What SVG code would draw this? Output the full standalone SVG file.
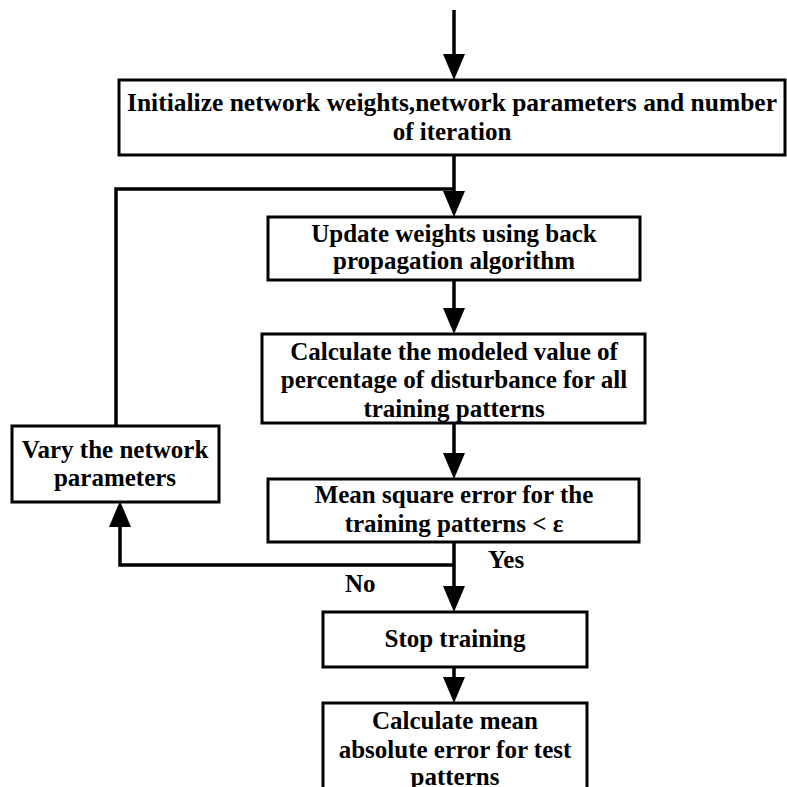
<svg xmlns="http://www.w3.org/2000/svg" width="787" height="787" viewBox="0 0 787 787">
  <style>
    .box { fill: #ffffff; stroke: #000000; stroke-width: 3; }
    .wire { fill: none; stroke: #000000; stroke-width: 3.5; }
    .lbl { font-family: "Liberation Serif", "Times New Roman", serif; font-weight: bold; font-size: 25px; fill: #000000; text-anchor: middle; }
    .tag { font-family: "Liberation Serif", "Times New Roman", serif; font-weight: bold; font-size: 25px; fill: #000000; }
  </style>
  <defs>
    <marker id="head" viewBox="0 0 26 22" markerWidth="26" markerHeight="22" refX="14" refY="11" orient="auto" markerUnits="userSpaceOnUse">
      <path d="M0,0 L26,11 L0,22 Z" fill="#000000"/>
    </marker>
  </defs>
  <rect width="787" height="787" fill="#ffffff"/>

  <!-- connectors -->
  <g id="connectors">
    <path class="wire" d="M454,10 V68" marker-end="url(#head)"/>
    <path class="wire" d="M454,155 V205" marker-end="url(#head)"/>
    <path class="wire" d="M116,426 V189 H454"/>
    <path class="wire" d="M454,280 V322" marker-end="url(#head)"/>
    <path class="wire" d="M454,423 V467" marker-end="url(#head)"/>
    <path class="wire" d="M454,542 V600" marker-end="url(#head)"/>
    <path class="wire" d="M454,565 H120 V513" marker-end="url(#head)"/>
    <path class="wire" d="M454,667 V691" marker-end="url(#head)"/>
    <text class="tag" x="488" y="568">Yes</text>
    <text class="tag" x="345" y="592">No</text>
  </g>

  <g id="init">
    <rect class="box" x="119" y="80" width="666" height="75"/>
    <text class="lbl" x="452" y="111" textLength="650" lengthAdjust="spacingAndGlyphs">Initialize network weights,network parameters and number</text>
    <text class="lbl" x="452" y="140">of iteration</text>
  </g>

  <g id="update">
    <rect class="box" x="268" y="217" width="372" height="63"/>
    <text class="lbl" x="454" y="242">Update weights using back</text>
    <text class="lbl" x="454" y="269">propagation algorithm</text>
  </g>

  <g id="model">
    <rect class="box" x="262" y="334" width="383" height="89"/>
    <text class="lbl" x="454" y="360">Calculate the modeled value of</text>
    <text class="lbl" x="454" y="388">percentage of disturbance for all</text>
    <text class="lbl" x="454" y="417">training patterns</text>
  </g>

  <g id="mse">
    <rect class="box" x="268" y="479" width="371" height="63"/>
    <text class="lbl" x="454" y="503">Mean square error for the</text>
    <text class="lbl" x="454" y="532">training patterns &lt; ε</text>
  </g>

  <g id="vary">
    <rect class="box" x="12" y="426" width="207" height="76"/>
    <text class="lbl" x="115" y="458">Vary the network</text>
    <text class="lbl" x="115" y="486">parameters</text>
  </g>

  <g id="stop">
    <rect class="box" x="323" y="612" width="264" height="55"/>
    <text class="lbl" x="455" y="647">Stop training</text>
  </g>

  <g id="mae">
    <rect class="box" x="323" y="703" width="264" height="100"/>
    <text class="lbl" x="455" y="729">Calculate mean</text>
    <text class="lbl" x="455" y="758">absolute error for test</text>
    <text class="lbl" x="455" y="785">patterns</text>
  </g>
</svg>
